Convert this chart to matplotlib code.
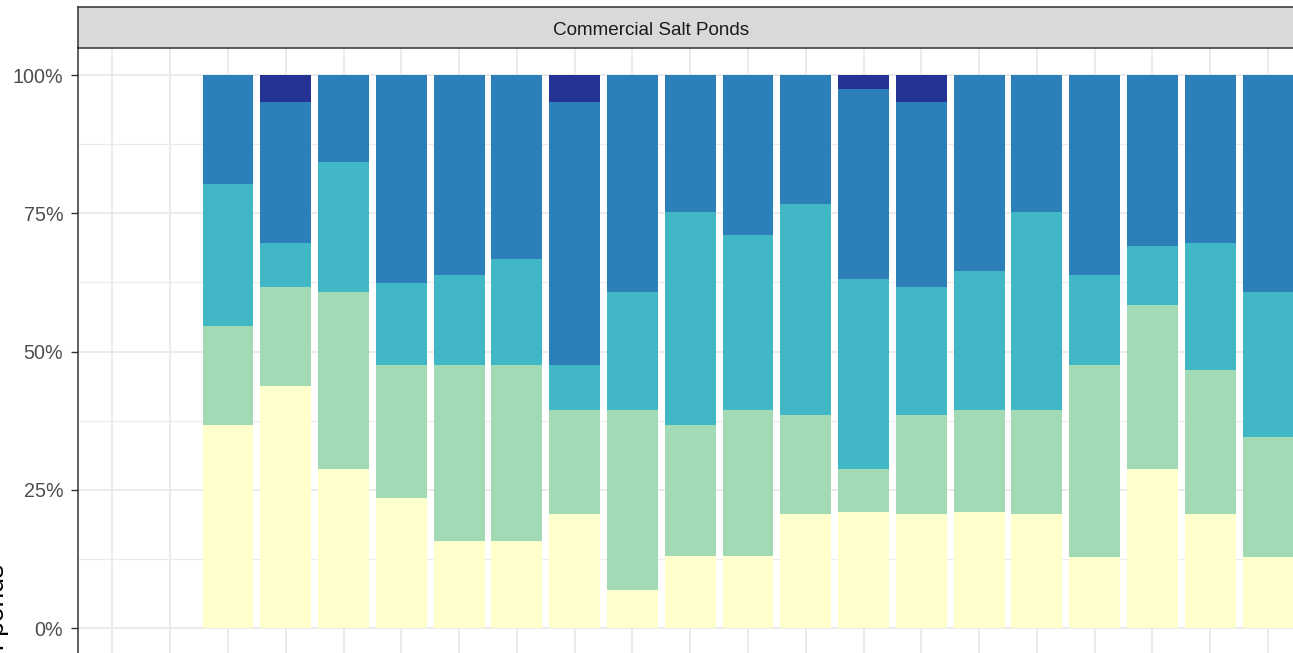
import matplotlib
matplotlib.use('Agg')
from matplotlib import pyplot as plt
import numpy as np

plt.rcParams['font.family'] = ['Liberation Sans', 'DejaVu Sans']

# sites along the x axis, the first two have no ponds in this facet
sites = ['Site %d' % i for i in range(1, 22)]
bar_sites = sites[2:]

# share of ponds in each class (bottom to top of each bar)
class_1 = [0.367, 0.438, 0.287, 0.235, 0.157, 0.157, 0.207, 0.068, 0.130, 0.130,
           0.207, 0.210, 0.207, 0.210, 0.207, 0.129, 0.287, 0.207, 0.129]
class_2 = [0.180, 0.179, 0.321, 0.241, 0.319, 0.319, 0.188, 0.327, 0.237, 0.265,
           0.179, 0.077, 0.179, 0.185, 0.188, 0.347, 0.297, 0.259, 0.216]
class_3 = [0.255, 0.080, 0.235, 0.148, 0.163, 0.191, 0.081, 0.213, 0.386, 0.315,
           0.380, 0.345, 0.231, 0.250, 0.358, 0.163, 0.107, 0.231, 0.263]
class_4 = [0.198, 0.254, 0.157, 0.376, 0.361, 0.333, 0.475, 0.392, 0.247, 0.290,
           0.234, 0.343, 0.334, 0.355, 0.247, 0.361, 0.309, 0.303, 0.392]
class_5 = [0.0, 0.049, 0.0, 0.0, 0.0, 0.0, 0.049, 0.0, 0.0, 0.0,
           0.0, 0.025, 0.049, 0.0, 0.0, 0.0, 0.0, 0.0, 0.0]

y_ticks = [0, 0.25, 0.5, 0.75, 1.0]
y_labels = ['0%', '25%', '50%', '75%', '100%']
facet_title = 'Commercial Salt Ponds'
y_title = 'Proportion of ponds'

colors = ['#FFFFCC', '#A1DAB4', '#41B6C4', '#2C7FB8', '#253494']

W, H = 1293, 653
fig = plt.figure(figsize=(W / 100, H / 100), dpi=100)

# panel placed in pixels (the picture is a crop of a wider figure)
step = 57.78
x0 = 112.4
left_px, right_px = x0 - 0.6 * step, 1310
top_px, bot_px = 47.35, 655.65
ax = fig.add_axes([left_px / W, (H - bot_px) / H, (right_px - left_px) / W, (bot_px - top_px) / H])

pos = np.arange(1, len(sites) + 1)
bar_pos = pos[2:]
bottom = np.zeros(len(bar_sites))
for vals, c in zip([class_1, class_2, class_3, class_4, class_5], colors):
    vals = np.array(vals)
    ax.bar(bar_pos, vals, bottom=bottom, width=0.88, color=c, linewidth=0)
    bottom += vals

ax.set_xlim(0.4, 1 + (right_px - x0) / step)
ax.set_ylim(-0.05, 1.05)
# site names sit below the crop, so only the tick positions are kept
ax.set_xticks(pos)
ax.set_xticklabels([])
ax.set_yticks(y_ticks)
ax.set_yticklabels(y_labels)
ax.set_yticks([0.125, 0.375, 0.625, 0.875], minor=True)
ax.set_axisbelow(True)
ax.grid(which='major', color='#EBEBEB', linewidth=1.4)
ax.grid(which='minor', axis='y', color='#EBEBEB', linewidth=0.8)
ax.tick_params(axis='y', which='major', length=5, width=1, color='#333333',
               labelsize=14.2, labelcolor='#4D4D4D', pad=5.5)
ax.tick_params(axis='y', which='minor', length=0)
ax.tick_params(axis='x', length=5, color='#333333')
for s in ax.spines.values():
    s.set_color('#333333')
    s.set_linewidth(1.1)

# facet strip
sax = fig.add_axes([left_px / W, (H - 48.3) / H, (right_px - left_px) / W, (48.3 - 6.7) / H])
sax.set_facecolor('#D9D9D9')
sax.set_xticks([])
sax.set_yticks([])
for s in sax.spines.values():
    s.set_color('#333333')
    s.set_linewidth(1.1)
fig.text(651 / W, (H - 30.5) / H, facet_title, ha='center', va='center',
         fontsize=13.6, color='#1A1A1A')

# y axis title, mostly cut off at the bottom left
fig.text(9 / W, (H - 564) / H, y_title, rotation=90, ha='right', va='top',
         fontsize=19, color='#000000')

plt.savefig('out.png', dpi=100)
